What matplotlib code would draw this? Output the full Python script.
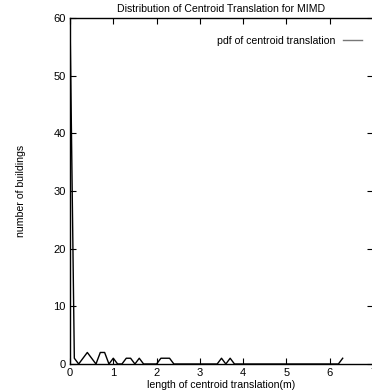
import matplotlib
matplotlib.use('Agg')
import matplotlib.pyplot as plt
import numpy as np

plt.rcParams['font.family'] = ['Liberation Sans', 'DejaVu Sans']

# pdf of centroid translation, 0.1 m bins
trans_x = [0.0, 0.1, 0.2, 0.3, 0.4, 0.5, 0.6, 0.7, 0.8, 0.9, 1.0, 1.1, 1.2, 1.3, 1.4,
           1.5, 1.6, 1.7, 1.8, 1.9, 2.0, 2.1, 2.2, 2.3, 2.4, 2.5, 2.6, 2.7, 2.8, 2.9,
           3.0, 3.1, 3.2, 3.3, 3.4, 3.5, 3.6, 3.7, 3.8, 3.9, 4.0, 4.1, 4.2, 4.3, 4.4,
           4.5, 4.6, 4.7, 4.8, 4.9, 5.0, 5.1, 5.2, 5.3, 5.4, 5.5, 5.6, 5.7, 5.8, 5.9,
           6.0, 6.1, 6.2, 6.3]
n_buildings = [60, 1, 0, 1, 2, 1, 0, 2, 2, 0, 1, 0, 0, 1, 1,
               0, 1, 0, 0, 0, 0, 1, 1, 1, 0, 0, 0, 0, 0, 0,
               0, 0, 0, 0, 0, 1, 0, 1, 0, 0, 0, 0, 0, 0, 0,
               0, 0, 0, 0, 0, 0, 0, 0, 0, 0, 0, 0, 0, 0, 0,
               0, 0, 0, 1]
x_ticks = [0, 1, 2, 3, 4, 5, 6, 7]
y_ticks = [0, 10, 20, 30, 40, 50, 60]

W, H = 372, 392
fig = plt.figure(figsize=(W / 100, H / 100), dpi=100)
# axes runs past the right edge of the picture, as in the original
ax = fig.add_axes([70 / W, 28 / H, 303 / W, 346 / H])

line, = ax.plot(trans_x, n_buildings, color='black', lw=1.0,
                label='pdf of centroid translation')

ax.set_xlim(0, 7)
ax.set_ylim(0, 60)
ax.set_xticks(x_ticks)
ax.set_yticks(y_ticks)
ax.tick_params(direction='in', length=4, width=0.8, labelsize=8,
               top=True, right=True, pad=3)
for s in ax.spines.values():
    s.set_linewidth(1.0)

ax.set_title('Distribution of Centroid Translation for MIMD', fontsize=7.6, pad=4)
ax.set_xlabel('length of centroid translation(m)', fontsize=7.6, labelpad=1)
ax.set_ylabel('number of buildings', fontsize=7.6, labelpad=20)

leg = ax.legend(loc='upper right', bbox_to_anchor=(362 / W, 1 - 36 / H),
                bbox_transform=fig.transFigure, frameon=False, borderpad=0,
                borderaxespad=0, fontsize=7.6, markerfirst=False,
                handlelength=1.8, handletextpad=0.75)
leg.get_lines()[0].set_color('#777777')

fig.savefig('out.png', dpi=100)
